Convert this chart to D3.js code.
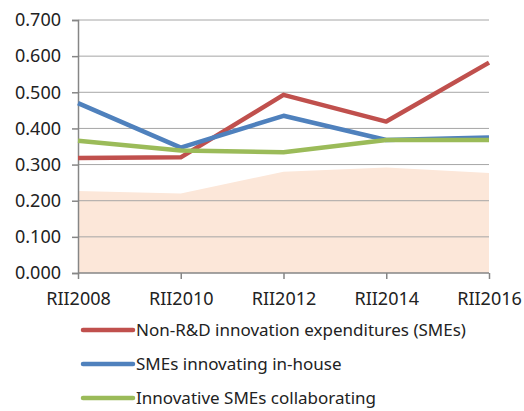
<!DOCTYPE html>
<html>
<head>
<meta charset="utf-8">
<script src="https://cdn.jsdelivr.net/npm/d3@7"></script>
<style>
  body { margin: 0; background: #fff; }
  text { font-family: "Noto Sans", sans-serif; fill: #222; }
</style>
</head>
<body>
<svg id="chart" width="524" height="411"></svg>
<script>
var years = ["RII2008", "RII2010", "RII2012", "RII2014", "RII2016"];
var nonRD = [0.318, 0.320, 0.493, 0.419, 0.582];
var inHouse = [0.470, 0.347, 0.435, 0.368, 0.375];
var collab = [0.366, 0.339, 0.334, 0.368, 0.368];
var band = [0.227, 0.220, 0.280, 0.292, 0.277];
var yTicks = [0, 0.1, 0.2, 0.3, 0.4, 0.5, 0.6, 0.7];

var series = [
  {name: "Non-R&D innovation expenditures (SMEs)", values: nonRD, color: "#c0504d"},
  {name: "SMEs innovating in-house", values: inHouse, color: "#4f81bd"},
  {name: "Innovative SMEs collaborating", values: collab, color: "#9bbb59"}
];

var svg = d3.select("#chart");
var plotL = 78, plotR = 489, plotT = 20, plotB = 273;

var x = d3.scalePoint()
  .domain(years)
  .range([plotL, plotR]);

var y = d3.scaleLinear()
  .domain([0, 0.7])
  .range([plotB, plotT]);

// shaded band behind the lines
svg.append("path")
  .datum(band)
  .attr("fill", "#fce7d9")
  .attr("d", d3.area()
    .x(function(d, i) { return x(years[i]); })
    .y0(y(0))
    .y1(function(d) { return y(d); })
  );

// gridlines
svg.append("g")
  .selectAll("line")
  .data(yTicks.filter(function(d) { return d > 0; }))
  .join("line")
  .attr("x1", plotL).attr("x2", plotR)
  .attr("y1", function(d) { return y(d); })
  .attr("y2", function(d) { return y(d); })
  .attr("stroke", "#a6a6a6")
  .attr("stroke-width", 1);

// y axis
var yAxis = svg.append("g")
  .attr("transform", "translate(" + plotL + ",0)")
  .call(d3.axisLeft(y).tickValues(yTicks).tickFormat(d3.format(".3f")).tickSize(6).tickPadding(11));
yAxis.select(".domain").attr("stroke", "#868686").attr("stroke-width", 1.5);
yAxis.selectAll(".tick line").attr("stroke", "#868686").attr("stroke-width", 1.5);
yAxis.selectAll("text").attr("font-size", 18).attr("font-family", "Noto Sans").attr("fill", "#222");

// x axis
var xAxis = svg.append("g")
  .attr("transform", "translate(0," + plotB + ")")
  .call(d3.axisBottom(x).tickSize(6).tickPadding(13));
xAxis.select(".domain").attr("stroke", "#868686").attr("stroke-width", 1.5).attr("d", "M" + plotL + ",0H" + plotR);
xAxis.selectAll(".tick line").attr("stroke", "#868686").attr("stroke-width", 1.5);
xAxis.selectAll("text").attr("font-size", 18).attr("font-family", "Noto Sans").attr("fill", "#222");

// lines
var line = d3.line()
  .x(function(d, i) { return x(years[i]); })
  .y(function(d) { return y(d); });

svg.append("g")
  .selectAll("path")
  .data(series)
  .join("path")
  .attr("fill", "none")
  .attr("stroke", function(d) { return d.color; })
  .attr("stroke-width", 4.5)
  .attr("stroke-linejoin", "round")
  .attr("d", function(d) { return line(d.values); });

// legend
var legend = svg.append("g")
  .selectAll("g")
  .data(series)
  .join("g")
  .attr("transform", function(d, i) { return "translate(83," + (330 + i * 34) + ")"; });

legend.append("line")
  .attr("x1", 0).attr("x2", 50)
  .attr("stroke", function(d) { return d.color; })
  .attr("stroke-width", 4.5)
  .attr("stroke-linecap", "round");

legend.append("text")
  .attr("x", 53)
  .attr("dy", "0.35em")
  .attr("font-size", 17)
  .text(function(d) { return d.name; });
</script>
</body>
</html>
